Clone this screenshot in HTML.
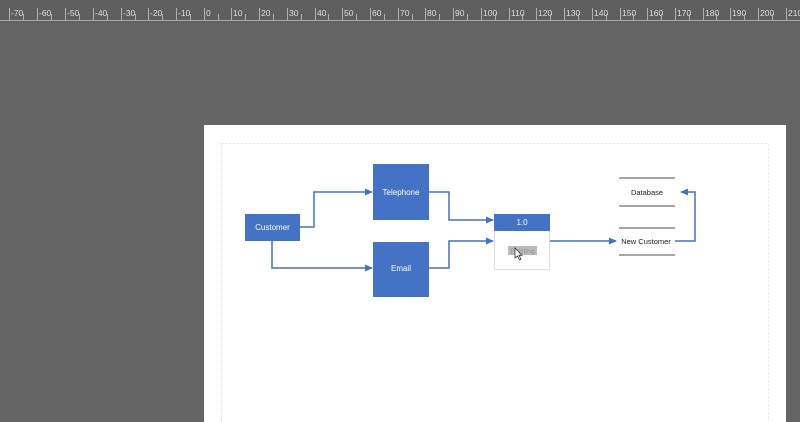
<!DOCTYPE html>
<html><head><style>
html,body{margin:0;padding:0}
body{width:800px;height:422px;background:#646464;position:relative;overflow:hidden;font-family:"Liberation Sans",sans-serif}
</style></head><body>
<svg width="800" height="422" style="position:absolute;left:0;top:0" font-family="Liberation Sans, sans-serif">
<rect x="0" y="0" width="800" height="22" fill="#5f5f5f"/>
<line x1="0" y1="20.5" x2="800" y2="20.5" stroke="#aaa" stroke-width="1"/>
<rect x="204" y="125" width="582" height="300" fill="#fff"/>
<rect x="221.5" y="143.5" width="547" height="290" fill="none" stroke="#e4e4e4" stroke-dasharray="2,2"/>
<defs><marker id="a" markerWidth="8" markerHeight="8" refX="7" refY="4" orient="auto" markerUnits="userSpaceOnUse"><path d="M0,0.5 L8,4 L0,7.5z" fill="#4472c4"/></marker></defs>
<g fill="none" stroke="#4472c4" stroke-width="1.5">
<path d="M300,227 H314 V192 H372" marker-end="url(#a)"/>
<path d="M272,241 V268 H372" marker-end="url(#a)"/>
<path d="M429,192 H449 V220 H493" marker-end="url(#a)"/>
<path d="M429,268 H449 V241 H493" marker-end="url(#a)"/>
<path d="M550,241 H616" marker-end="url(#a)"/>
<path d="M675,241 H695 V192 H681" marker-end="url(#a)"/>
</g>
<rect x="245" y="214" width="55" height="27" fill="#4472c4"/>
<rect x="373" y="164" width="56" height="56" fill="#4472c4"/>
<rect x="373" y="242" width="56" height="55" fill="#4472c4"/>
<rect x="494.5" y="214.5" width="55" height="55" fill="#fff" stroke="#ddd"/>
<rect x="494" y="214" width="56" height="17" fill="#4472c4"/>
<rect x="508" y="246" width="29" height="9" fill="#bbb"/>
<text x="522.5" y="253.5" font-size="7" fill="#999" text-anchor="middle">Existing</text>
<path d="M515,248 v10 l2.5,-2 l2,4 l1.5,-0.7 l-2,-4 l3,0 z" fill="#fff" stroke="#333" stroke-width="0.8"/>
<g fill="#fff" font-size="8" text-anchor="middle">
<text x="272.5" y="230">Customer</text>
<text x="401" y="195">Telephone</text>
<text x="401" y="271">Email</text>
<text x="522" y="225">1.0</text>
</g>
<g stroke="#888" stroke-width="1.5">
<line x1="619" y1="178" x2="675" y2="178"/>
<line x1="619" y1="206" x2="675" y2="206"/>
<line x1="619" y1="228" x2="675" y2="228"/>
<line x1="619" y1="255" x2="675" y2="255"/>
</g>
<g fill="#222" font-size="7.5" text-anchor="middle">
<text x="647" y="195">Database</text>
<text x="646" y="244">New Customer</text>
</g>
</svg>
<svg width="800" height="22" style="position:absolute;left:0;top:0" font-family="Liberation Sans, sans-serif" font-size="8.5">
<g stroke="#b0b0b0" stroke-width="1" fill="#ddd">
<line x1="9.5" y1="8" x2="9.5" y2="20"/><text x="11" y="16" stroke="none">-70</text>
<line x1="37.5" y1="8" x2="37.5" y2="20"/><text x="39" y="16" stroke="none">-60</text>
<line x1="65.5" y1="8" x2="65.5" y2="20"/><text x="67" y="16" stroke="none">-50</text>
<line x1="93.5" y1="8" x2="93.5" y2="20"/><text x="95" y="16" stroke="none">-40</text>
<line x1="121.5" y1="8" x2="121.5" y2="20"/><text x="123" y="16" stroke="none">-30</text>
<line x1="148.5" y1="8" x2="148.5" y2="20"/><text x="150" y="16" stroke="none">-20</text>
<line x1="176.5" y1="8" x2="176.5" y2="20"/><text x="178" y="16" stroke="none">-10</text>
<line x1="204.5" y1="8" x2="204.5" y2="20"/><text x="206" y="16" stroke="none">0</text>
<line x1="231.5" y1="8" x2="231.5" y2="20"/><text x="233" y="16" stroke="none">10</text>
<line x1="259.5" y1="8" x2="259.5" y2="20"/><text x="261" y="16" stroke="none">20</text>
<line x1="287.5" y1="8" x2="287.5" y2="20"/><text x="289" y="16" stroke="none">30</text>
<line x1="315.5" y1="8" x2="315.5" y2="20"/><text x="317" y="16" stroke="none">40</text>
<line x1="342.5" y1="8" x2="342.5" y2="20"/><text x="344" y="16" stroke="none">50</text>
<line x1="370.5" y1="8" x2="370.5" y2="20"/><text x="372" y="16" stroke="none">60</text>
<line x1="398.5" y1="8" x2="398.5" y2="20"/><text x="400" y="16" stroke="none">70</text>
<line x1="425.5" y1="8" x2="425.5" y2="20"/><text x="427" y="16" stroke="none">80</text>
<line x1="453.5" y1="8" x2="453.5" y2="20"/><text x="455" y="16" stroke="none">90</text>
<line x1="481.5" y1="8" x2="481.5" y2="20"/><text x="483" y="16" stroke="none">100</text>
<line x1="509.5" y1="8" x2="509.5" y2="20"/><text x="511" y="16" stroke="none">110</text>
<line x1="536.5" y1="8" x2="536.5" y2="20"/><text x="538" y="16" stroke="none">120</text>
<line x1="564.5" y1="8" x2="564.5" y2="20"/><text x="566" y="16" stroke="none">130</text>
<line x1="592.5" y1="8" x2="592.5" y2="20"/><text x="594" y="16" stroke="none">140</text>
<line x1="620.5" y1="8" x2="620.5" y2="20"/><text x="622" y="16" stroke="none">150</text>
<line x1="647.5" y1="8" x2="647.5" y2="20"/><text x="649" y="16" stroke="none">160</text>
<line x1="675.5" y1="8" x2="675.5" y2="20"/><text x="677" y="16" stroke="none">170</text>
<line x1="703.5" y1="8" x2="703.5" y2="20"/><text x="705" y="16" stroke="none">180</text>
<line x1="730.5" y1="8" x2="730.5" y2="20"/><text x="732" y="16" stroke="none">190</text>
<line x1="758.5" y1="8" x2="758.5" y2="20"/><text x="760" y="16" stroke="none">200</text>
<line x1="786.5" y1="8" x2="786.5" y2="20"/><text x="788" y="16" stroke="none">210</text>
</g>
<g stroke="#b0b0b0" stroke-width="1">
<path d="M23.5,14V20M51.5,14V20M79.5,14V20M107.5,14V20M135.5,14V20M162.5,14V20M190.5,14V20M218.5,14V20M245.5,14V20M273.5,14V20M301.5,14V20M328.5,14V20M356.5,14V20M384.5,14V20M412.5,14V20M439.5,14V20M467.5,14V20M495.5,14V20M522.5,14V20M550.5,14V20M578.5,14V20M606.5,14V20M633.5,14V20M661.5,14V20M689.5,14V20M716.5,14V20M744.5,14V20M772.5,14V20"/>
</g>
</svg>
</body></html>
